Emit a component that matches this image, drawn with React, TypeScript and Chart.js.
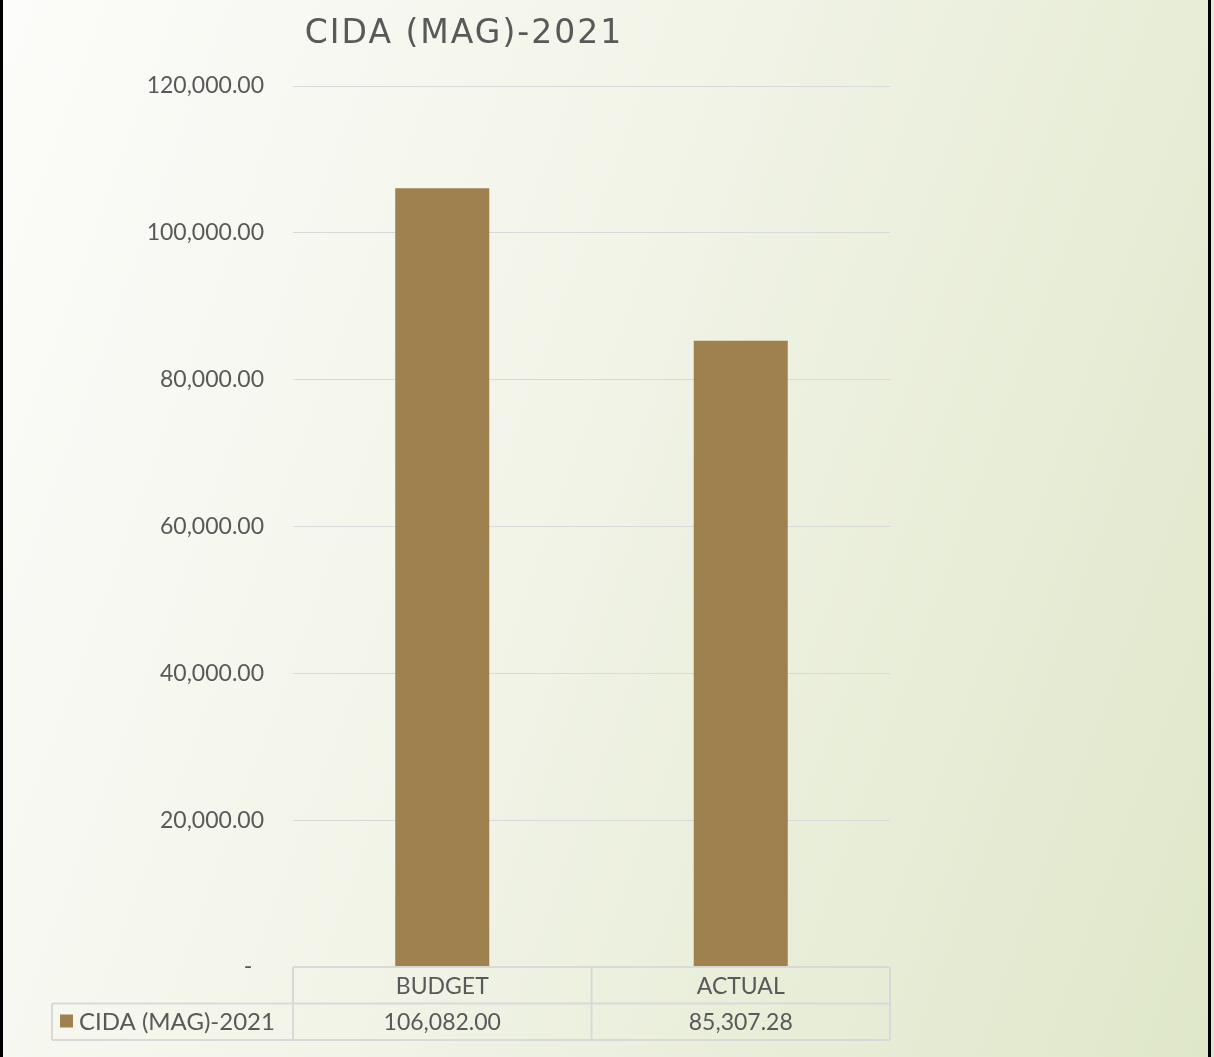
import React, { useEffect, useRef } from "react";
import { Chart, registerables } from "chart.js";

Chart.register(...registerables);

const titleText = "CIDA (MAG)-2021";
const categories = ["BUDGET", "ACTUAL"];
const seriesName = "CIDA (MAG)-2021";
const seriesValues = [106082.0, 85307.28];
const yMin = 0;
const yMax = 120000;
const yStep = 20000;

const FONT = "Lato, 'Open Sans', sans-serif";
const TITLE_FONT = "'DejaVu Sans', sans-serif";
const TEXT = "#595959";
const GRID = "#d9d9d9";
const BAR = "#9f8150";

const fmt = (v: number) =>
  v.toLocaleString("en-US", { minimumFractionDigits: 2, maximumFractionDigits: 2 });

const overlay = {
  id: "overlay",
  afterDraw(chart: any) {
    const ctx = chart.ctx as CanvasRenderingContext2D;
    const x = chart.scales.x;
    const area = chart.chartArea;
    ctx.save();
    // title
    ctx.fillStyle = TEXT;
    ctx.font = `33px ${TITLE_FONT}`;
    (ctx as any).letterSpacing = "2px";
    ctx.textAlign = "center";
    ctx.textBaseline = "middle";
    ctx.fillText(titleText, 464, 34);
    (ctx as any).letterSpacing = "0px";

    // data table
    const n = categories.length;
    const catW = (area.right - area.left) / n;
    const top = area.bottom;
    const rowH = 36.5;
    const tableLeft = 52;
    ctx.strokeStyle = GRID;
    ctx.lineWidth = 2;
    ctx.beginPath();
    ctx.moveTo(area.left, top);
    ctx.lineTo(area.right, top);
    ctx.moveTo(tableLeft, top + rowH);
    ctx.lineTo(area.right, top + rowH);
    ctx.moveTo(tableLeft, top + 2 * rowH);
    ctx.lineTo(area.right, top + 2 * rowH);
    ctx.moveTo(tableLeft, top + rowH);
    ctx.lineTo(tableLeft, top + 2 * rowH);
    for (let i = 0; i <= n; i++) {
      const lx = area.left + i * catW;
      ctx.moveTo(lx, top);
      ctx.lineTo(lx, top + 2 * rowH);
    }
    ctx.stroke();

    ctx.fillStyle = TEXT;
    ctx.font = `23px ${FONT}`;
    ctx.textAlign = "center";
    ctx.textBaseline = "middle";
    categories.forEach((c, i) => {
      const cx = x.getPixelForValue(i);
      ctx.fillText(c, cx, top + rowH / 2 + 1);
      ctx.fillText(fmt(seriesValues[i]), cx, top + rowH * 1.5 + 1);
    });
    // legend key
    ctx.fillStyle = BAR;
    ctx.fillRect(60, top + rowH + 11, 13, 13);
    ctx.fillStyle = TEXT;
    ctx.textAlign = "left";
    ctx.font = `24px ${FONT}`;
    ctx.fillText(seriesName, 79, top + rowH * 1.5 + 1);
    ctx.restore();
  },
};

export default function App() {
  const ref = useRef<HTMLCanvasElement | null>(null);
  useEffect(() => {
    if (!ref.current) return;
    const chart = new Chart(ref.current, {
      type: "bar",
      data: {
        labels: categories,
        datasets: [
          {
            label: seriesName,
            data: seriesValues,
            backgroundColor: BAR,
            borderWidth: 0,
            barPercentage: 0.315,
            categoryPercentage: 1,
          },
        ],
      },
      options: {
        animation: false,
        responsive: false,
        devicePixelRatio: 1,
        layout: { padding: { left: 0, right: 324, top: 86, bottom: 90 } },
        plugins: { legend: { display: false }, title: { display: false }, tooltip: { enabled: false } },
        scales: {
          x: { display: false },
          y: {
            min: yMin,
            max: yMax,
            border: { display: false },
            grid: { color: GRID, lineWidth: 1, drawTicks: false },
            ticks: {
              stepSize: yStep,
              padding: 29,
              color: TEXT,
              font: { family: FONT, size: 23 },
              callback: (v: any) => (Number(v) === 0 ? "-  " : fmt(Number(v))),
            },
            afterFit: (s: any) => {
              s.width = 293;
            },
          },
        },
      },
      plugins: [overlay],
    });
    return () => chart.destroy();
  }, []);

  return (
    <div
      style={{
        position: "fixed",
        left: 0,
        top: 0,
        width: 1214,
        height: 1057,
        background: "linear-gradient(110deg, #fcfcfa 0%, #f3f5ea 40%, #dfe7c9 100%)",
        overflow: "hidden",
      }}
    >
      <div style={{ position: "absolute", left: 0, top: 0, width: 3, height: 1057, background: "#000" }} />
      <div style={{ position: "absolute", left: 1208, top: 0, width: 3, height: 1057, background: "#000" }} />
      <canvas ref={ref} width={1214} height={1057} style={{ position: "absolute", left: 0, top: 0 }} />
    </div>
  );
}
